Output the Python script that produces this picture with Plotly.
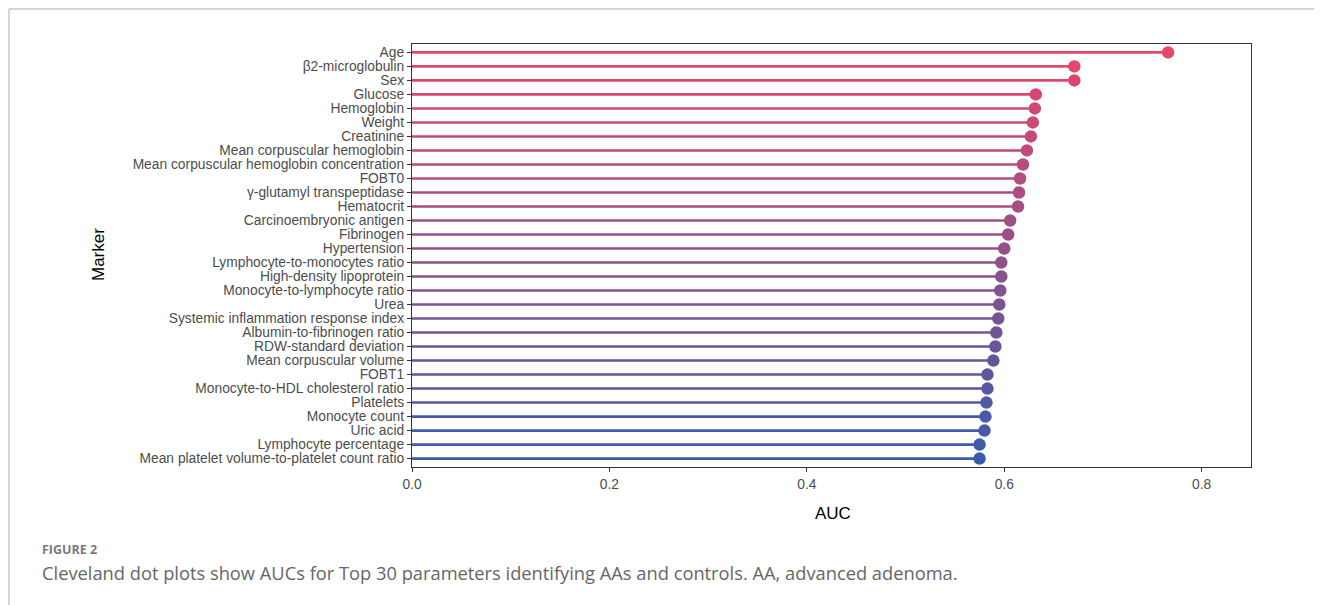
import plotly.graph_objects as go

markers = [
    "Age", "β2-microglobulin", "Sex", "Glucose", "Hemoglobin", "Weight", "Creatinine",
    "Mean corpuscular hemoglobin", "Mean corpuscular hemoglobin concentration", "FOBT0",
    "γ-glutamyl transpeptidase", "Hematocrit", "Carcinoembryonic antigen", "Fibrinogen",
    "Hypertension", "Lymphocyte-to-monocytes ratio", "High-density lipoprotein",
    "Monocyte-to-lymphocyte ratio", "Urea", "Systemic inflammation response index",
    "Albumin-to-fibrinogen ratio", "RDW-standard deviation", "Mean corpuscular volume",
    "FOBT1", "Monocyte-to-HDL cholesterol ratio", "Platelets", "Monocyte count",
    "Uric acid", "Lymphocyte percentage", "Mean platelet volume-to-platelet count ratio",
]
auc = [
    0.766, 0.671, 0.671, 0.632, 0.631, 0.629, 0.627, 0.623, 0.619, 0.616,
    0.615, 0.614, 0.606, 0.604, 0.600, 0.597, 0.597, 0.596, 0.595, 0.594,
    0.592, 0.591, 0.589, 0.583, 0.583, 0.582, 0.581, 0.580, 0.575, 0.575,
]
x_ticks = [0.0, 0.2, 0.4, 0.6, 0.8]

top_rgb = (232, 70, 106)
bot_rgb = (58, 91, 170)
n = len(markers)

def col(i):
    t = i / (n - 1)
    r = round(top_rgb[0] + (bot_rgb[0] - top_rgb[0]) * t)
    g = round(top_rgb[1] + (bot_rgb[1] - top_rgb[1]) * t)
    b = round(top_rgb[2] + (bot_rgb[2] - top_rgb[2]) * t)
    return f"rgb({r},{g},{b})"

colors = [col(i) for i in range(n)]

fig = go.Figure()
for i, (m, v) in enumerate(zip(markers, auc)):
    fig.add_trace(go.Scatter(x=[0, v], y=[m, m], mode="lines",
                             line=dict(color=colors[i], width=2.6),
                             hoverinfo="skip", showlegend=False))
fig.add_trace(go.Scatter(x=auc, y=markers, mode="markers",
                         marker=dict(color=colors, size=12.5, line=dict(width=0)),
                         showlegend=False))

# page offset (body margin 8px)
OFF = 8
W, H = 1322 - OFF, 605 - OFF
# plot area in screenshot pixels: x 412..1251, y 44..467
L, R, T, B = 412 - OFF, 1251 - OFF, 44 - OFF, 467 - OFF

def px(x):
    return (x - OFF - L) / (R - L)

def py(y):
    return (B - (y - OFF)) / (B - T)

tick_font = dict(family="Liberation Sans, Arial, sans-serif", size=13.8, color="#4D4D4D")

fig.update_layout(
    width=W, height=H,
    margin=dict(l=L, r=W - R, t=T, b=H - B),
    paper_bgcolor="white", plot_bgcolor="white",
    xaxis=dict(range=[0, 0.85], tickmode="array", tickvals=x_ticks,
               ticktext=[f"{t:.1f}" for t in x_ticks],
               showgrid=False, zeroline=False, showline=True, mirror=True,
               linecolor="#333333", linewidth=1.2, ticks="outside", ticklen=4,
               tickcolor="#333333", tickfont=tick_font),
    yaxis=dict(type="category", categoryorder="array", categoryarray=markers[::-1],
               tickmode="array", tickvals=markers, ticktext=markers,
               range=[-0.6, n - 0.4], showgrid=False, zeroline=False, showline=True,
               mirror=True, linecolor="#333333", linewidth=1.2, ticks="outside",
               ticklen=4, tickcolor="#333333", tickfont=tick_font),
    shapes=[
        dict(type="line", xref="paper", yref="paper", x0=px(9), x1=px(1322), y0=py(9), y1=py(9),
             line=dict(color="#C8C8C8", width=1.5)),
        dict(type="line", xref="paper", yref="paper", x0=px(9), x1=px(9), y0=py(9), y1=py(605),
             line=dict(color="#C8C8C8", width=1.5)),
    ],
    annotations=[
        dict(text="AUC", xref="paper", yref="paper", x=px(833), y=py(513), showarrow=False,
             xanchor="center", yanchor="middle",
             font=dict(family="Liberation Sans, Arial, sans-serif", size=17, color="black")),
        dict(text="Marker", xref="paper", yref="paper", x=px(98), y=py(255), showarrow=False,
             xanchor="center", yanchor="middle", textangle=-90,
             font=dict(family="Liberation Sans, Arial, sans-serif", size=17, color="black")),
        dict(text="<b>FIGURE 2</b>", xref="paper", yref="paper", x=px(40), y=py(549), showarrow=False,
             xanchor="left", yanchor="middle",
             font=dict(family="Open Sans, sans-serif", size=12.5, color="#7A7A7A")),
        dict(text="Cleveland dot plots show AUCs for Top 30 parameters identifying AAs and controls. AA, advanced adenoma.",
             xref="paper", yref="paper", x=px(40), y=py(572), showarrow=False,
             xanchor="left", yanchor="middle",
             font=dict(family="Open Sans, sans-serif", size=18.3, color="#666666")),
    ],
)

fig.write_html("out.html")
